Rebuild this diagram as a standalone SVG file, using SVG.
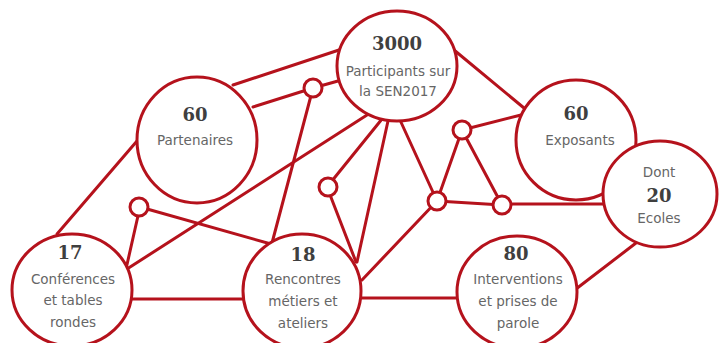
<svg xmlns="http://www.w3.org/2000/svg" width="719" height="343" viewBox="0 0 719 343">
<style>
.c{stroke:#b5121c;stroke-width:3;fill:none;stroke-linecap:round}
.n{fill:#fff;stroke:#b5121c;stroke-width:3}
.s{fill:#fff;stroke:#b5121c;stroke-width:3}
.num{font-family:"DejaVu Serif",serif;font-weight:bold;font-size:18px;fill:#3f3f3f;text-anchor:middle}
.lbl{font-family:"DejaVu Sans",Verdana,sans-serif;font-size:13.5px;fill:#666;text-anchor:middle}
</style>
<rect width="719" height="343" fill="#fff"/>
<g id="connectors" class="c">
<line x1="233" y1="85" x2="339" y2="50"/>
<line x1="253" y1="107" x2="313" y2="88"/>
<line x1="313" y1="88" x2="338" y2="81"/>
<line x1="313" y1="88" x2="272" y2="243"/>
<line x1="137" y1="141" x2="57" y2="234"/>
<line x1="367" y1="115" x2="127" y2="269"/>
<line x1="140" y1="207" x2="126" y2="269"/>
<line x1="140" y1="207" x2="271" y2="244"/>
<line x1="132" y1="299" x2="244" y2="299"/>
<line x1="382" y1="119" x2="327" y2="187"/>
<line x1="327" y1="187" x2="356" y2="262"/>
<line x1="388" y1="121" x2="357" y2="262"/>
<line x1="400" y1="120" x2="437" y2="201"/>
<line x1="437" y1="201" x2="462" y2="130"/>
<line x1="462" y1="130" x2="502" y2="205"/>
<line x1="462" y1="130" x2="521" y2="115"/>
<line x1="454" y1="50" x2="524" y2="108"/>
<line x1="437" y1="201" x2="502" y2="205"/>
<line x1="502" y1="204" x2="604" y2="204"/>
<line x1="437" y1="201" x2="362" y2="280"/>
<line x1="361" y1="298" x2="457" y2="298"/>
<line x1="576" y1="289" x2="636" y2="243"/>
</g>
<g id="junctions">
<circle class="s" cx="313" cy="88" r="9"/>
<circle class="s" cx="139" cy="207" r="9"/>
<circle class="s" cx="328" cy="187" r="9"/>
<circle class="s" cx="462" cy="130" r="9"/>
<circle class="s" cx="437" cy="201" r="9"/>
<circle class="s" cx="502" cy="205" r="9"/>
</g>
<g id="participants">
<ellipse class="n" cx="397" cy="66" rx="60" ry="55"/>
<text class="num" x="397" y="50">3000</text>
<text class="lbl" x="398" y="76">Participants sur</text>
<text class="lbl" x="398" y="96">la SEN2017</text>
</g>
<g id="partenaires">
<ellipse class="n" cx="197" cy="140" rx="60" ry="63"/>
<text class="num" x="195" y="121">60</text>
<text class="lbl" x="195" y="145">Partenaires</text>
</g>
<g id="exposants">
<ellipse class="n" cx="576" cy="140" rx="60" ry="60"/>
<text class="num" x="576" y="120">60</text>
<text class="lbl" x="580" y="145">Exposants</text>
</g>
<g id="ecoles">
<ellipse class="n" cx="660" cy="194" rx="57" ry="53"/>
<text class="lbl" x="659" y="177">Dont</text>
<text class="num" x="659" y="202">20</text>
<text class="lbl" x="659" y="223">Ecoles</text>
</g>
<g id="conferences">
<ellipse class="n" cx="72" cy="290" rx="60" ry="56"/>
<text class="num" x="70" y="259">17</text>
<text class="lbl" x="73" y="284">Conférences</text>
<text class="lbl" x="73" y="305">et tables</text>
<text class="lbl" x="73" y="327">rondes</text>
</g>
<g id="rencontres">
<ellipse class="n" cx="302" cy="291" rx="59" ry="57"/>
<text class="num" x="303" y="261">18</text>
<text class="lbl" x="303" y="284">Rencontres</text>
<text class="lbl" x="303" y="306">métiers et</text>
<text class="lbl" x="303" y="328">ateliers</text>
</g>
<g id="interventions">
<ellipse class="n" cx="517" cy="292" rx="60" ry="56"/>
<text class="num" x="516" y="260">80</text>
<text class="lbl" x="518" y="284">Interventions</text>
<text class="lbl" x="518" y="306">et prises de</text>
<text class="lbl" x="518" y="328">parole</text>
</g>
</svg>
